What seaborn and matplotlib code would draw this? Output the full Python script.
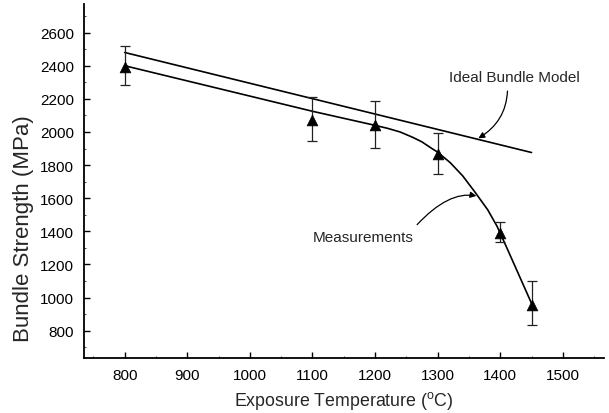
import matplotlib
matplotlib.use("Agg")
import matplotlib.pyplot as plt
import seaborn as sns
import pandas as pd
import numpy as np

# ---- data ----
temps = [800, 1100, 1200, 1300, 1400, 1450]
strength = [2395, 2070, 2045, 1865, 1390, 955]
err_low = [2282, 1944, 1903, 1748, 1337, 834]
err_high = [2521, 2214, 2189, 1996, 1454, 1098]

ideal_x = [800, 1450]
ideal_y = [2480, 1876]

curve_x = [800, 1100, 1200, 1220, 1240, 1260, 1275, 1290, 1300, 1320, 1340,
           1360, 1380, 1395, 1410, 1430, 1450]
curve_y = [2400, 2125, 2040, 2022, 2000, 1968, 1940, 1902, 1878, 1815, 1735,
           1635, 1530, 1430, 1305, 1135, 965]

x_ticks = [800, 900, 1000, 1100, 1200, 1300, 1400, 1500]
y_ticks = [800, 1000, 1200, 1400, 1600, 1800, 2000, 2200, 2400, 2600]

sns.set_style("ticks")
plt.rcParams["font.family"] = ["Liberation Sans", "DejaVu Sans"]

fig = plt.figure(figsize=(6.09, 4.14), dpi=100)
ax = fig.add_axes([0.138, 0.132, 0.854, 0.856])

meas = pd.DataFrame({"T": temps, "S": strength})
ideal = pd.DataFrame({"T": ideal_x, "S": ideal_y})
curve = pd.DataFrame({"T": curve_x, "S": curve_y})

sns.lineplot(data=ideal, x="T", y="S", ax=ax, color="black", linewidth=1.2, sort=False)
sns.lineplot(data=curve, x="T", y="S", ax=ax, color="black", linewidth=1.2, sort=False)

yerr = np.array([np.array(strength) - np.array(err_low), np.array(err_high) - np.array(strength)])
ax.errorbar(temps, strength, yerr=yerr, fmt="none", ecolor="#222222",
            elinewidth=0.9, capsize=3.8, capthick=0.9, zorder=3)
sns.scatterplot(data=meas, x="T", y="S", ax=ax, marker="^", s=60,
                color="black", edgecolor="black", linewidth=0.5, zorder=4)

ax.set_xlim(735, 1566)
ax.set_ylim(633, 2773)
ax.set_xticks(x_ticks)
ax.set_yticks(y_ticks)
ax.set_xticks(np.arange(750, 1566, 100), minor=True)
ax.set_yticks(np.arange(700, 2773, 200), minor=True)
ax.tick_params(axis="both", which="major", direction="in", length=4.5, width=1.0,
               labelsize=11, color="black", labelcolor="black", pad=7)
ax.tick_params(axis="both", which="minor", direction="in", length=1.5, width=0.6)

for s in ["left", "bottom"]:
    ax.spines[s].set_linewidth(1.3)
    ax.spines[s].set_color("black")
sns.despine(ax=ax)

ax.set_xlabel("Exposure Temperature ($^{\\mathregular{o}}$C)", fontsize=12.8, labelpad=5)
ax.set_ylabel("Bundle Strength (MPa)", fontsize=16)
ax.yaxis.set_label_coords(-0.096, 0.37)

ax.annotate("Ideal Bundle Model", xy=(1365, 1962), xytext=(1422, 2334),
            fontsize=11, ha="center", va="center",
            arrowprops=dict(arrowstyle="-|>", color="black", lw=0.9,
                            shrinkA=3, shrinkB=0, mutation_scale=9,
                            relpos=(0.45, 0.0),
                            connectionstyle="arc3,rad=-0.3"))
ax.annotate("Measurements", xy=(1362, 1614), xytext=(1181, 1366),
            fontsize=11, ha="center", va="center",
            arrowprops=dict(arrowstyle="-|>", color="black", lw=0.9,
                            shrinkA=2, shrinkB=0, mutation_scale=9,
                            relpos=(0.97, 0.85),
                            connectionstyle="angle3,angleA=50,angleB=-10"))

fig.savefig("out.png", dpi=100)
